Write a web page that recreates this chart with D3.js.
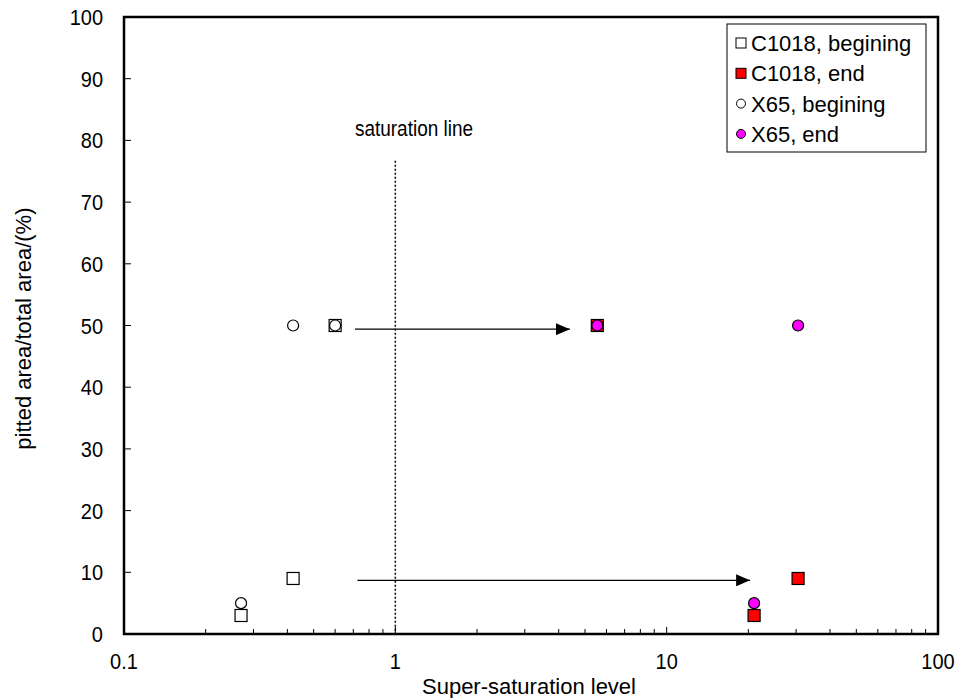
<!DOCTYPE html>
<html>
<head>
<meta charset="utf-8">
<script src="https://cdn.jsdelivr.net/npm/d3@7"></script>
<style>
  body { margin: 0; background: #fff; }
  svg { font-family: "Liberation Sans", Arial, sans-serif; }
</style>
</head>
<body>
<svg id="chart" width="961" height="698"></svg>
<script>
// data
var c1018BeginX = [0.27, 0.42, 0.6];
var c1018BeginY = [3, 9, 50];
var c1018EndX = [21, 30.5, 5.55];
var c1018EndY = [3, 9, 50];
var x65BeginX = [0.27, 0.42, 0.6];
var x65BeginY = [5, 50, 50];
var x65EndX = [21, 5.55, 30.5];
var x65EndY = [5, 50, 50];

var seriesNames = ["C1018, begining", "C1018, end", "X65, begining", "X65, end"];
var xTicks = [0.1, 1, 10, 100];
var yTicks = [0, 10, 20, 30, 40, 50, 60, 70, 80, 90, 100];

// arrows: [x0, x1, y]
var arrowData = [[0.71, 4.4, 49.4], [0.725, 20.3, 8.7]];
var saturationX = 1, saturationTop = 76.7;

var margin = {left: 124, top: 17, right: 23, bottom: 64};
var width = 961, height = 698;

var svg = d3.select("#chart");

var x = d3.scaleLog().domain([0.1, 100]).range([margin.left, width - margin.right]);
var y = d3.scaleLinear().domain([0, 100]).range([height - margin.bottom, margin.top]);

var zip = (xs, ys) => xs.map((v, i) => [v, ys[i]]);

// minor log ticks, inside
var minor = [];
[0.1, 1, 10].forEach(d => { for (var k = 2; k <= 9; k++) minor.push(d * k); });

svg.append("g")
    .selectAll("line")
    .data(minor)
    .enter()
    .append("line")
    .attr("x1", d => x(d)).attr("x2", d => x(d))
    .attr("y1", y(0)).attr("y2", y(0) - 5)
    .attr("stroke", "#000").attr("stroke-width", 1);

svg.append("g")
    .selectAll("line")
    .data(xTicks)
    .enter()
    .append("line")
    .attr("x1", d => x(d)).attr("x2", d => x(d))
    .attr("y1", y(0)).attr("y2", y(0) - 7)
    .attr("stroke", "#000").attr("stroke-width", 1);

svg.append("g")
    .selectAll("line")
    .data(yTicks)
    .enter()
    .append("line")
    .attr("x1", x(0.1)).attr("x2", x(0.1) + 7)
    .attr("y1", d => y(d)).attr("y2", d => y(d))
    .attr("stroke", "#000").attr("stroke-width", 1);

// tick labels (slightly tall glyphs, as in the source)
svg.append("g")
    .selectAll("text")
    .data(xTicks)
    .enter()
    .append("text")
    .attr("transform", d => "translate(" + x(d) + "," + (y(0) + 35) + ") scale(1,1.12)")
    .attr("text-anchor", "middle")
    .attr("font-size", 20)
    .text(d => d);

svg.append("g")
    .selectAll("text")
    .data(yTicks)
    .enter()
    .append("text")
    .attr("transform", d => "translate(" + (x(0.1) - 21) + "," + (y(d) + 8) + ") scale(1,1.12)")
    .attr("text-anchor", "end")
    .attr("font-size", 20)
    .text(d => d);

// axis titles
svg.append("text")
    .attr("x", 529).attr("y", 694)
    .attr("text-anchor", "middle")
    .attr("font-size", 22)
    .text("Super-saturation level");

svg.append("text")
    .attr("transform", "translate(31," + y(49.5) + ") rotate(-90)")
    .attr("text-anchor", "middle")
    .attr("font-size", 22)
    .text("pitted area/total area/(%)");

// frame
svg.append("rect")
    .attr("x", x(0.1)).attr("y", y(100))
    .attr("width", x(100) - x(0.1)).attr("height", y(0) - y(100))
    .attr("fill", "none").attr("stroke", "#000").attr("stroke-width", 2.5);

// saturation line
svg.append("line")
    .attr("x1", x(saturationX)).attr("x2", x(saturationX))
    .attr("y1", y(saturationTop)).attr("y2", y(0))
    .attr("stroke", "#000").attr("stroke-width", 1.5)
    .attr("stroke-dasharray", "2,2");

svg.append("text")
    .attr("transform", "translate(414,136) scale(1,1.12)")
    .attr("text-anchor", "middle")
    .attr("font-size", 19)
    .text("saturation line");

// arrows
svg.append("defs").append("marker")
    .attr("id", "head")
    .attr("viewBox", "0 0 14 12")
    .attr("refX", 14).attr("refY", 6)
    .attr("markerWidth", 14).attr("markerHeight", 12)
    .attr("markerUnits", "userSpaceOnUse")
    .attr("orient", "auto")
    .append("path")
    .attr("d", "M0,0 L14,6 L0,12 Z")
    .attr("fill", "#000");

svg.append("g")
    .selectAll("line")
    .data(arrowData)
    .enter()
    .append("line")
    .attr("x1", d => x(d[0])).attr("x2", d => x(d[1]))
    .attr("y1", d => y(d[2])).attr("y2", d => y(d[2]))
    .attr("stroke", "#000").attr("stroke-width", 1.3)
    .attr("marker-end", "url(#head)");

// markers
var sq = 12, rad = 5.5;

function squares(pts, fill) {
    svg.append("g")
        .selectAll("rect")
        .data(pts)
        .enter()
        .append("rect")
        .attr("x", d => x(d[0]) - sq / 2)
        .attr("y", d => y(d[1]) - sq / 2)
        .attr("width", sq).attr("height", sq)
        .attr("fill", fill).attr("stroke", "#000").attr("stroke-width", 1.2);
}

function circles(pts, fill) {
    svg.append("g")
        .selectAll("circle")
        .data(pts)
        .enter()
        .append("circle")
        .attr("cx", d => x(d[0]))
        .attr("cy", d => y(d[1]))
        .attr("r", rad)
        .attr("fill", fill).attr("stroke", "#000").attr("stroke-width", 1.2);
}

squares(zip(c1018BeginX, c1018BeginY), "#fff");
squares(zip(c1018EndX, c1018EndY), "#ff0000");
circles(zip(x65BeginX, x65BeginY), "#fff");
circles(zip(x65EndX, x65EndY), "#ff00ff");

// legend
var legend = svg.append("g").attr("transform", "translate(727,24)");
legend.append("rect")
    .attr("width", 199).attr("height", 128)
    .attr("fill", "#fff").attr("stroke", "#000").attr("stroke-width", 1);

var items = legend.selectAll("g.item")
    .data(seriesNames)
    .enter()
    .append("g")
    .attr("class", "item")
    .attr("transform", (d, i) => "translate(0," + (19 + i * 30.3) + ")");

items.each(function(d, i) {
    var g = d3.select(this);
    var fill = ["#fff", "#ff0000", "#fff", "#ff00ff"][i];
    if (i < 2) {
        g.append("rect").attr("x", 9).attr("y", -5).attr("width", 10).attr("height", 10)
            .attr("fill", fill).attr("stroke", "#000").attr("stroke-width", 1);
    } else {
        g.append("circle").attr("cx", 14).attr("cy", 0).attr("r", 4.5)
            .attr("fill", fill).attr("stroke", "#000").attr("stroke-width", 1);
    }
    g.append("text").attr("x", 24).attr("y", 8).attr("font-size", 22).text(d);
});
</script>
</body>
</html>
